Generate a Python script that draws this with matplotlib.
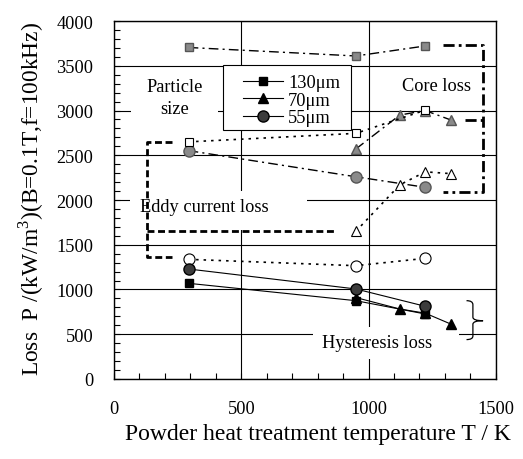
import matplotlib
matplotlib.use('Agg')
import matplotlib.pyplot as plt
from matplotlib.patches import Rectangle, PathPatch
from matplotlib.path import Path
from matplotlib.ticker import MultipleLocator

plt.rcParams['font.family'] = ['Liberation Serif', 'DejaVu Serif']
plt.rcParams['mathtext.fontset'] = 'custom'
plt.rcParams['mathtext.rm'] = 'Liberation Serif'
plt.rcParams['font.size'] = 13.2

# powder heat treatment temperature (K)
temp_130 = [293, 950, 1223]
temp_70 = [950, 1123, 1223, 1323]
temp_55 = [293, 950, 1223]

# core loss (kW/m3)
core_130 = [3705, 3610, 3722]
core_70 = [2570, 2950, 3000, 2895]
core_55 = [2552, 2260, 2142]

# eddy current loss
eddy_130 = [2650, 2745, 3005]
eddy_70 = [1650, 2170, 2315, 2295]
eddy_55 = [1337, 1266, 1348]

# hysteresis loss
hyst_130 = [1069, 875, 726]
hyst_70 = [910, 782, 735, 614]
hyst_55 = [1229, 1006, 812]

size_labels = ['130μm', '70μm', '55μm']

GRAY = '#8a8a8a'
DARK = '#3c3c3c'
dashdot = (7, 3, 1.5, 3)
dotted = (1.5, 3)

fig = plt.figure(figsize=(5.23, 4.60), dpi=100)
ax = fig.add_axes([0.218, 0.174, 0.730, 0.778])

ax.set_xlim(0, 1500)
ax.set_ylim(0, 4000)
ax.xaxis.set_major_locator(MultipleLocator(500))
ax.xaxis.set_minor_locator(MultipleLocator(100))
ax.yaxis.set_major_locator(MultipleLocator(500))
ax.yaxis.set_minor_locator(MultipleLocator(100))
ax.tick_params(which='both', direction='in', top=False, right=False, length=4, width=0.8)
ax.tick_params(axis='both', which='major', pad=15, labelsize=13.2)
ax.set_axisbelow(True)
ax.grid(which='major', color='black', lw=0.8)
for s in ax.spines.values():
    s.set_linewidth(1.0)

# white boxes behind the annotation texts (they break the grid)
for (x0, x1, y0, y1) in [(67, 408, 2900, 3100), (63, 757, 1665, 2100), (782, 1355, 223, 581)]:
    ax.add_patch(Rectangle((x0, y0), x1 - x0, y1 - y0, facecolor='white', edgecolor='none', zorder=1))

# core loss
ax.plot(temp_130, core_130, color='black', lw=1.0, dashes=dashdot, marker='s', ms=6,
        mfc=GRAY, mec='#555555', zorder=3)
ax.plot(temp_70, core_70, color='black', lw=1.0, dashes=dashdot, marker='^', ms=7,
        mfc=GRAY, mec='#555555', zorder=3)
ax.plot(temp_55, core_55, color='black', lw=1.0, dashes=dashdot, marker='o', ms=8,
        mfc=GRAY, mec='#555555', zorder=3)

# eddy current loss
ax.plot(temp_130, eddy_130, color='black', lw=1.2, dashes=dotted, marker='s', ms=6,
        mfc='white', mec='black', mew=0.8, zorder=4)
ax.plot(temp_70, eddy_70, color='black', lw=1.2, dashes=dotted, marker='^', ms=7,
        mfc='white', mec='black', mew=0.8, zorder=4)
ax.plot(temp_55, eddy_55, color='black', lw=1.2, dashes=dotted, marker='o', ms=8,
        mfc='white', mec='black', mew=0.8, zorder=4)

# hysteresis loss
h1, = ax.plot(temp_130, hyst_130, color='black', lw=0.8, marker='s', ms=6,
              mfc='black', mec='black', zorder=5, label=size_labels[0])
h2, = ax.plot(temp_70, hyst_70, color='black', lw=0.8, marker='^', ms=7,
              mfc='black', mec='black', zorder=5, label=size_labels[1])
h3, = ax.plot(temp_55, hyst_55, color='black', lw=0.8, marker='o', ms=8,
              mfc=DARK, mec='black', zorder=5, label=size_labels[2])

# brackets
ax.plot([227, 128, 128, 227], [2644, 2644, 1360, 1360], color='black', lw=2.0,
        dashes=(2.5, 1.3), zorder=3)
ax.plot([128, 875], [1657, 1657], color='black', lw=2.0, dashes=(2.5, 1.3), zorder=3)
ax.plot([1293, 1451, 1451, 1293], [3735, 3735, 2086, 2086], color='black', lw=2.0,
        dashes=(4, 1.5, 1, 1.5), zorder=3)
ax.plot([1379, 1451], [2897, 2897], color='black', lw=2.0, dashes=(4, 1.5, 1, 1.5), zorder=3)

# brace for hysteresis loss
xm = 1410
verts = [(1385, 875), (xm, 875), (xm, 830), (xm, 690), (xm, 651), (1450, 651),
         (xm, 651), (xm, 612), (xm, 480), (xm, 440), (1385, 440)]
codes = [Path.MOVETO, Path.CURVE3, Path.CURVE3, Path.LINETO, Path.CURVE3, Path.CURVE3,
         Path.CURVE3, Path.CURVE3, Path.LINETO, Path.CURVE3, Path.CURVE3]
ax.add_patch(PathPatch(Path(verts, codes), facecolor='none', edgecolor='black', lw=0.9, zorder=3))

ax.text(240, 3145, 'Particle\nsize', ha='center', va='center', linespacing=1.35, zorder=2)
ax.text(1267, 3285, 'Core loss', ha='center', va='center', zorder=2)
ax.text(353, 1933, 'Eddy current loss', ha='center', va='center', zorder=2)
ax.text(1033, 413, 'Hysteresis loss', ha='center', va='center', zorder=2)

# legend frame drawn separately so the box size matches
ax.add_patch(Rectangle((0.2853, 0.6955), 0.3351, 0.1815, transform=ax.transAxes,
                       facecolor='white', edgecolor='black', lw=0.8, zorder=6))
leg = ax.legend(handles=[h1, h2, h3], loc='upper left', bbox_to_anchor=(0.3377, 0.852),
                borderaxespad=0, frameon=False, handlelength=2.2, handletextpad=0.25,
                borderpad=0, labelspacing=0.03, fontsize=13.2)
leg.set_zorder(7)

ax.set_xlabel('Powder heat treatment temperature T / K', fontsize=17.0)
ax.xaxis.set_label_coords(0.533, -0.122)
ax.set_ylabel('Loss  P /(kW/m$^3$)(B=0.1T,f=100kHz)', fontsize=16.8)
ax.yaxis.set_label_coords(-0.177, 0.505)

fig.savefig('out.png', dpi=100)
